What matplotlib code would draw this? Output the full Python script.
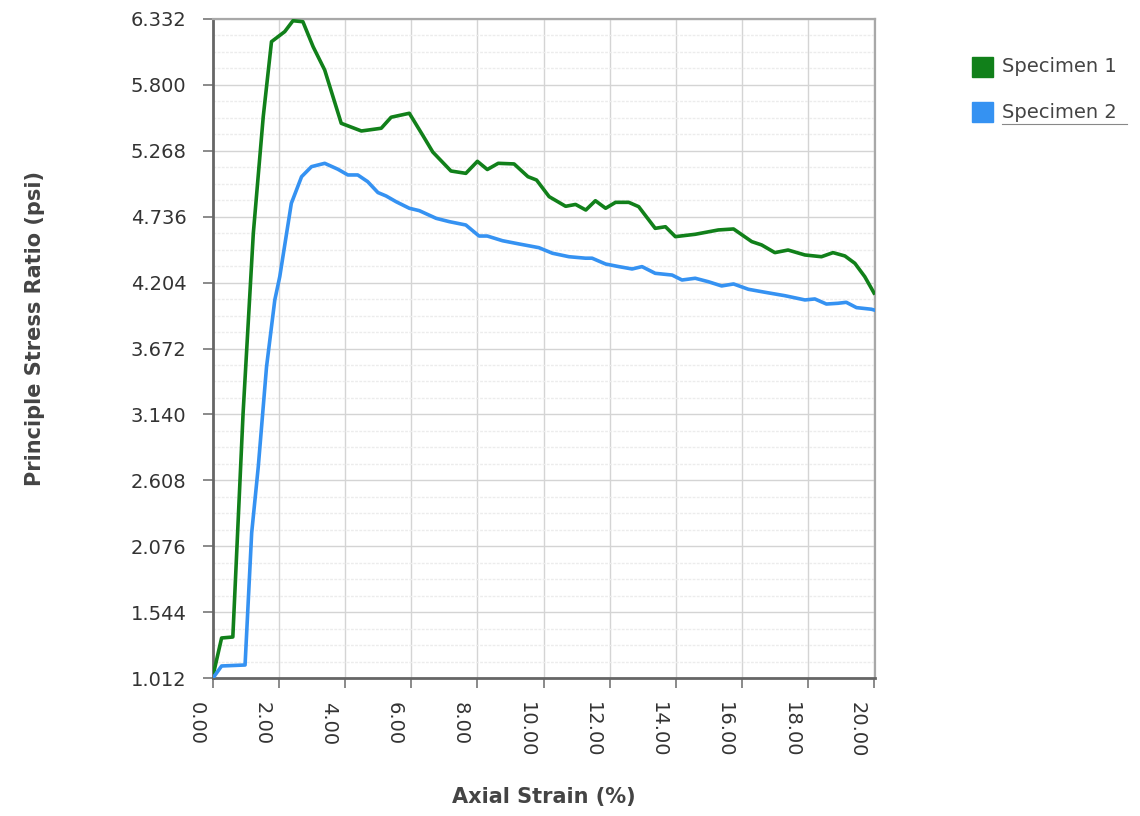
import numpy as np
import matplotlib
matplotlib.use("Agg")
import matplotlib.pyplot as plt
import matplotlib.transforms as mtransforms
from matplotlib.patches import Rectangle
from matplotlib.lines import Line2D
from matplotlib.ticker import AutoMinorLocator

# Specimen 1 (green) -- axial strain (%) vs principal stress ratio
strain_1 = [0.00, 0.26, 0.60, 0.91, 1.22, 1.52, 1.77, 2.17, 2.42, 2.72, 3.03, 3.38,
            3.88, 4.49, 5.09, 5.39, 5.94, 6.34, 6.65, 7.20, 7.65, 8.00, 8.30, 8.63,
            9.11, 9.53, 9.79, 10.17, 10.67, 10.97, 11.28, 11.57, 11.88, 12.18, 12.58,
            12.88, 13.38, 13.69, 13.99, 14.59, 15.29, 15.75, 16.30, 16.60, 17.00,
            17.40, 17.91, 18.41, 18.76, 19.12, 19.42, 19.72, 19.92, 20.00]
ratio_1 = [1.030, 1.335, 1.343, 3.148, 4.602, 5.543, 6.149, 6.230, 6.318, 6.310, 6.108, 5.920,
           5.490, 5.428, 5.450, 5.539, 5.571, 5.396, 5.258, 5.105, 5.086, 5.183, 5.117, 5.167,
           5.162, 5.059, 5.032, 4.898, 4.820, 4.835, 4.790, 4.865, 4.804, 4.852, 4.852,
           4.817, 4.642, 4.655, 4.575, 4.594, 4.629, 4.637, 4.535, 4.508, 4.446,
           4.467, 4.427, 4.413, 4.446, 4.419, 4.360, 4.252, 4.158, 4.120]

# Specimen 2 (blue)
strain_2 = [0.00, 0.26, 0.97, 1.17, 1.37, 1.62, 1.87, 2.02, 2.37, 2.68, 2.98, 3.38,
            3.78, 4.08, 4.38, 4.68, 4.99, 5.24, 5.54, 5.94, 6.24, 6.75, 7.15, 7.65,
            8.05, 8.30, 8.76, 9.26, 9.86, 10.27, 10.77, 11.27, 11.47, 11.88, 12.28,
            12.68, 12.98, 13.38, 13.89, 14.19, 14.59, 14.99, 15.39, 15.75, 16.20,
            16.70, 17.31, 17.91, 18.21, 18.56, 18.91, 19.16, 19.47, 19.92, 20.00]
ratio_2 = [1.012, 1.109, 1.117, 2.183, 2.718, 3.525, 4.064, 4.252, 4.844, 5.059, 5.140, 5.167,
           5.119, 5.073, 5.073, 5.019, 4.931, 4.903, 4.857, 4.804, 4.785, 4.723, 4.696, 4.669,
           4.580, 4.580, 4.542, 4.516, 4.486, 4.441, 4.413, 4.401, 4.401, 4.354, 4.333,
           4.314, 4.333, 4.279, 4.265, 4.225, 4.239, 4.211, 4.177, 4.193, 4.150,
           4.126, 4.098, 4.064, 4.072, 4.031, 4.037, 4.045, 4.002, 3.989, 3.983]

y_ticks = [1.012, 1.544, 2.076, 2.608, 3.140, 3.672, 4.204, 4.736, 5.268, 5.800, 6.332]
x_ticks = [0, 2, 4, 6, 8, 10, 12, 14, 16, 18, 20]
series_names = ["Specimen 1", "Specimen 2"]
colors = ["#11801a", "#3592f2"]

W, H = 1140, 816
fig = plt.figure(figsize=(W / 100, H / 100), dpi=100)
ax = fig.add_axes([213 / W, 1 - 678 / H, 662 / W, 659 / H])

for xs, ys, c, name in [(strain_1, ratio_1, colors[0], series_names[0]),
                        (strain_2, ratio_2, colors[1], series_names[1])]:
    ax.plot(xs, ys, color=c, lw=2.6, label=name, solid_joinstyle="round", zorder=3)

ax.set_xlim(0, 20.03)
ax.set_ylim(y_ticks[0], y_ticks[-1])
ax.set_yticks(y_ticks)
ax.set_yticklabels(["%.3f" % v for v in y_ticks])
ax.set_xticks(x_ticks)
ax.set_xticklabels(["%.2f" % v for v in x_ticks], rotation=-90)

# grid: major both ways, faint minor horizontals
ax.yaxis.set_minor_locator(AutoMinorLocator(4))
ax.grid(which="major", color="#d4d4d4", lw=1.0, zorder=0)
ax.grid(which="minor", axis="y", color="#ececec", lw=1.0, ls=(0, (2, 1)), zorder=0)
ax.tick_params(which="minor", length=0)
ax.tick_params(which="major", direction="out", length=7, width=1.2, color="#777777",
               labelsize=14, labelcolor="#333333")
ax.tick_params(axis="y", pad=12)
ax.tick_params(axis="x", pad=10)

# shift rotated x tick labels left of their ticks like the original
shift = mtransforms.ScaledTranslation(-17 / 100, 0, fig.dpi_scale_trans)
for lab in ax.get_xticklabels():
    lab.set_transform(lab.get_transform() + shift)

for side in ["left", "bottom"]:
    ax.spines[side].set_color("#666666")
    ax.spines[side].set_linewidth(2)
for side in ["top", "right"]:
    ax.spines[side].set_color("#a8a8a8")
    ax.spines[side].set_linewidth(1.6)

ax.set_ylabel("Principle Stress Ratio (psi)", fontsize=15, fontweight="bold",
              color="#444444", labelpad=0)
ax.yaxis.set_label_coords(-168 / 662, (678 - 328) / 659)
ax.set_xlabel("Axial Strain (%)", fontsize=15, fontweight="bold", color="#444444")
ax.xaxis.set_label_coords(0.50, -(797 - 678) / 659)
ax.xaxis.label.set_va("center")

# legend drawn as coloured squares with text
for i, (name, c) in enumerate(zip(series_names, colors)):
    top = 57 + 45 * i
    fig.patches.append(Rectangle((972 / W, 1 - (top + 20) / H), 21 / W, 20 / H,
                                 transform=fig.transFigure, color=c))
    fig.text(1002 / W, 1 - (top + 10) / H, name, fontsize=14, color="#444444",
             va="center", ha="left")
fig.add_artist(Line2D([1002 / W, 1127 / W], [1 - 124 / H, 1 - 124 / H],
                      transform=fig.transFigure, color="#888888", lw=0.8))

fig.savefig("out.png", dpi=100, facecolor="white")
